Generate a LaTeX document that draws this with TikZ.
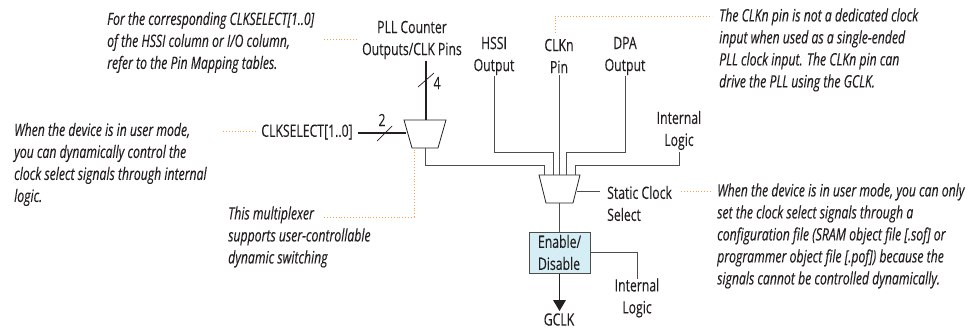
\documentclass[tikz,border=0pt]{standalone}
\usepackage{fontspec}
\setmainfont[FakeStretch=0.72,FakeBold=0.15]{Open Sans}
\usetikzlibrary{calc}
\definecolor{ink}{HTML}{231F20}
\definecolor{wire}{HTML}{4D4D4D}
\definecolor{lead}{HTML}{F5A04A}
\definecolor{boxfill}{HTML}{D5EDF5}
\tikzset{
  txt/.style={font=\fontsize{17}{22}\selectfont,text=ink,inner sep=0pt,align=center},
  note/.style={font=\fontsize{17}{22}\selectfont\itshape,text=ink,inner sep=0pt,align=left,anchor=west},
  wireline/.style={draw=wire,line width=1pt},
  thick bus/.style={draw=ink,line width=2.6pt},
  slash/.style={draw=ink,line width=0.7pt},
  leader/.style={draw=lead,line width=0.9pt,dotted},
  muxframe/.style={inner sep=0pt,outer sep=0pt,minimum height=28pt},
  muxline/.style={draw=ink,line width=0.8pt,fill=white,line join=miter},
}
\begin{document}
\begin{tikzpicture}[x=1pt,y=-1pt]
\useasboundingbox (0,0) rectangle (973,329);
% text
\node[note] (n1) at (107,42.5) {For the corresponding CLKSELECT[1..0]\\of the HSSI column or I/O column,\\refer to the Pin Mapping tables.};
\node[note] (n2) at (14,164.5) {When the device is in user mode,\\you can dynamically control the\\clock select signals through internal\\logic.};
\node[note] (n3) at (228,237) {This multiplexer\\supports user-controllable\\dynamic switching};
\node[note] (n4) at (719,50) {The CLKn pin is not a dedicated clock\\input when used as a single-ended\\PLL clock input. The CLKn pin can\\drive the PLL using the GCLK.};
\node[note] (n5) at (717,236) {When the device is in user mode, you can only\\set the clock select signals through a\\configuration file (SRAM object file [.sof] or\\programmer object file [.pof]) because the\\signals cannot be controlled dynamically.};
\node[txt] (pll) at (412,40) {PLL Counter\\Outputs/CLK Pins};
\node[txt] (hssi) at (494,56) {HSSI\\Output};
\node[txt] (clkn) at (559,56) {CLKn\\Pin};
\node[txt] (dpa) at (625,56) {DPA\\Output};
\node[txt] (il1) at (679,130.5) {Internal\\Logic};
\node[txt] (clksel) at (307,132) {CLKSELECT[1..0]};
\node[txt,align=left,anchor=west] (scs) at (607,203.5) {Static Clock\\Select};
\node[txt] (il2) at (637,298) {Internal\\Logic};
\node[txt] (gclk) at (559,319.5) {GCLK};
\node[txt] (four) at (437,83) {4};
\node[txt] (two) at (382,120) {2};
% muxes and box
\node[muxframe,minimum width=42pt] (m1) at (425,134) {};
\node[muxframe,minimum width=41pt] (m2) at (559.5,189) {};
\draw[muxline] (m1.north west) -- (m1.north east) -- ($(m1.south east)+(-8,0)$) -- ($(m1.south west)+(8,0)$) -- cycle;
\draw[muxline] (m2.north west) -- (m2.north east) -- ($(m2.south east)+(-7,0)$) -- ($(m2.south west)+(7,0)$) -- cycle;
\node[txt,draw=wire,line width=1pt,fill=boxfill,minimum width=61pt,minimum height=41pt,align=left] (en) at (559.5,252.5) {Enable/\\Disable};
% port coordinates
\coordinate (pllend) at (426,61);
\coordinate (selend) at (358,133);
\coordinate (h0) at (494,76);
\coordinate (c0) at (559,75);
\coordinate (d0) at (625,76);
\coordinate (i0) at (679,152);
\coordinate (p1) at (544.5,175);
\coordinate (p2) at (553,175);
\coordinate (p3) at (559,175);
\coordinate (p4) at (566,175);
\coordinate (p5) at (575,175);
\coordinate (m1out) at (425,148);
\coordinate (m1sel) at (406,133);
\coordinate (m1top) at (426,120);
\coordinate (m2sel) at (577,191);
\coordinate (scsend) at (600,191);
\coordinate (il2top) at (637,279);
\coordinate (arrtip) at (559.5,311);
% wires
\draw[thick bus] (pllend) -- (m1top);
\draw[thick bus] (selend) -- (m1sel);
\draw[slash] (418,87) -- (434,73);
\draw[slash] (377,141) -- (392,126);
\draw[wireline] (m1out) -- (425,165) -| (p1);
\draw[wireline] (h0) -- (494,152) -| (p2);
\draw[wireline] (c0) -- (p3);
\draw[wireline] (d0) -- (625,152) -| (p4);
\draw[wireline] (i0) -- (679,165) -| (p5);
\draw[wireline] (m2sel) -- (scsend);
\draw[wireline] (m2.south) -- (en.north);
\draw[wireline] (en.east) -| (il2top);
\draw[wireline,draw=ink] (en.south) -- (559.5,301);
\fill[ink] (553,300) -- (566,300) -- (arrtip) -- cycle;
% leaders
\coordinate (l1a) at (324,39); \coordinate (l1b) at (357,39);
\coordinate (l2a) at (223,131); \coordinate (l2b) at (256,131);
\coordinate (l3a) at (324,217); \coordinate (l3b) at (414,149);
\coordinate (l4a) at (555,33); \coordinate (l4b) at (712,16);
\coordinate (l5a) at (681,191); \coordinate (l5b) at (712,191);
\draw[leader] (l1a) -- (l1b);
\draw[leader] (l2a) -- (l2b);
\draw[leader] (l3a) -| (l3b);
\draw[leader] (l4a) |- (l4b);
\draw[leader] (l5a) -- (l5b);
\end{tikzpicture}
\end{document}
